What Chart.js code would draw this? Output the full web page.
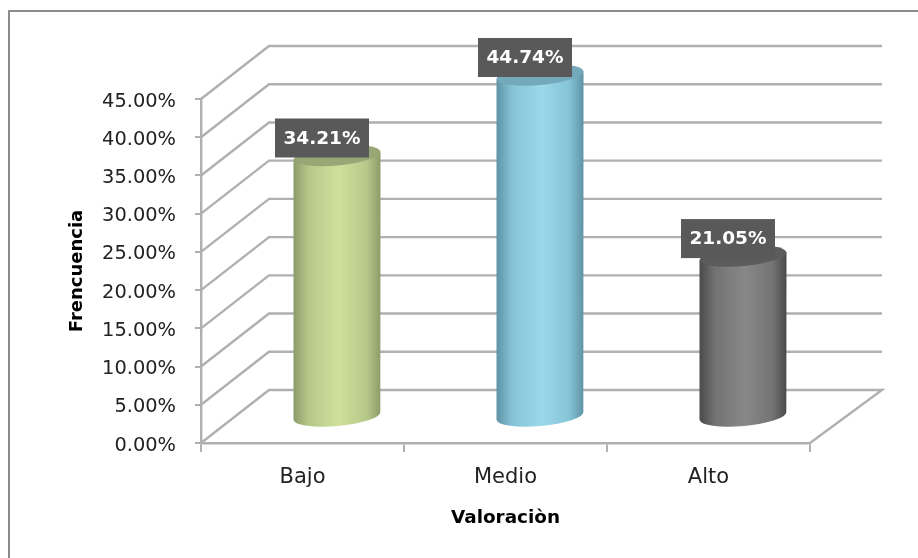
<!DOCTYPE html>
<html><head><meta charset="utf-8">
<style>html,body{margin:0;padding:0;background:#fff}
#w{position:relative;width:918px;height:558px;overflow:hidden}
#ft{position:absolute;left:8px;top:10px;width:910px;height:2px;background:#8c8c8c}
#fl{position:absolute;left:8px;top:10px;width:2px;height:548px;background:#8c8c8c}
canvas{position:absolute;left:0;top:0;filter:blur(0.55px)}</style>
<script src="https://cdn.jsdelivr.net/npm/chart.js@4"></script>
</head><body><div id="w"><div id="ft"></div><div id="fl"></div><canvas id="c" width="918" height="558"></canvas></div>
<script>
const categories = ['Bajo','Medio','Alto'];
const values = [34.21,44.74,21.05];
const centerColors = ['#cfe09c','#9ad8ea','#888888'];
const midColors = ['#b7c98a','#85c3d6','#737373'];
const edgeColors = ['#8c9c6a','#5f93a5','#4a4a4a'];
const capColors = ['#97a775','#74a9bb','#5c5c5c'];
const yTitle = 'Frencuencia';
const xTitle = 'Valoraciòn';
const depthX = 68, depthY = 53;

const scene = {
  id:'scene',
  beforeDatasetsDraw(chart){
    const {ctx,scales:{y},chartArea:a}=chart;
    ctx.save();
    ctx.strokeStyle='#b0b0b0';ctx.lineWidth=2.4;
    y.ticks.forEach(t=>{
      const p=y.getPixelForValue(t.value);
      ctx.beginPath();
      ctx.moveTo(a.left,p);
      ctx.lineTo(a.left+depthX,p-depthY);
      ctx.lineTo(a.right+depthX+4,p-depthY);
      if(t.value===0){ctx.lineTo(a.right,p);}
      ctx.stroke();
    });
    ctx.restore();
  },
  beforeDatasetDraw(chart,args){
    const {ctx}=chart;
    const meta=chart.getDatasetMeta(args.index);
    meta.data.forEach((el,i)=>{
      const rx=el.width/2, ry=10, tilt=-0.09;
      const cx=el.x+34.5, top=el.y-26, bot=el.base-26;
      const g=ctx.createLinearGradient(cx-rx,0,cx+rx,0);
      g.addColorStop(0,edgeColors[i]);
      g.addColorStop(.18,midColors[i]);
      g.addColorStop(.52,centerColors[i]);
      g.addColorStop(.84,midColors[i]);
      g.addColorStop(1,edgeColors[i]);
      const dy=Math.sin(tilt)*rx;
      ctx.save();
      ctx.fillStyle=g;
      ctx.beginPath();
      ctx.moveTo(cx-rx,top-dy);
      ctx.lineTo(cx-rx,bot-dy);
      ctx.ellipse(cx,bot,rx,ry,tilt,Math.PI,0,true);
      ctx.lineTo(cx+rx,top+dy);
      ctx.closePath();
      ctx.fill();
      ctx.fillStyle=capColors[i];
      ctx.beginPath();
      ctx.ellipse(cx,top,rx,ry,tilt,0,Math.PI*2);
      ctx.fill();
      ctx.restore();
    });
    return false;
  },
  afterDatasetsDraw(chart){
    const {ctx}=chart;
    const meta=chart.getDatasetMeta(0);
    ctx.save();
    ctx.font='bold 18.5px "DejaVu Sans"';
    ctx.textAlign='center';ctx.textBaseline='middle';
    meta.data.forEach((el,i)=>{
      const cx=el.x+19.5, cy=el.y-43.5;
      ctx.fillStyle='#595959';
      ctx.fillRect(cx-47,cy-19.5,94,39);
      ctx.fillStyle='#fff';
      ctx.fillText(values[i].toFixed(2)+'%',cx,cy+1);
    });
    ctx.restore();
  }
};

function shiftLabels(s,dy){
  if(s._shifted) return;
  s._shifted=true;
  const orig=s._computeLabelItems;
  s._computeLabelItems=function(a){
    const r=orig.call(this,a);
    r.forEach(it=>{it.options.translation[1]+=dy;});
    return r;
  };
}

new Chart(document.getElementById('c'),{
  type:'bar',
  data:{labels:categories,datasets:[{data:values,backgroundColor:centerColors,categoryPercentage:1,barPercentage:87/203}]},
  options:{
    responsive:false,animation:false,
    layout:{padding:{top:99,right:108,left:0,bottom:0}},
    plugins:{legend:{display:false},tooltip:{enabled:false}},
    scales:{
      y:{min:0,max:45,
        afterFit(s){s.width=201;shiftLabels(s,2.5);},
        ticks:{stepSize:5,padding:19,color:'#222',font:{family:'DejaVu Sans',size:19.4},callback:v=>v.toFixed(2)+'%'},
        grid:{drawOnChartArea:false,color:'#b0b0b0',lineWidth:2,tickLength:6},
        border:{color:'#b0b0b0',width:2.4},
        title:{display:true,text:yTitle,color:'#000',font:{family:'DejaVu Sans',size:18,weight:'bold'},padding:{top:67,bottom:0}}
      },
      x:{
        afterFit(s){s.height=115;},
        ticks:{padding:13,color:'#222',font:{family:'DejaVu Sans',size:21}},
        grid:{drawOnChartArea:false,color:'#b0b0b0',lineWidth:2,tickLength:9,offset:true},
        border:{color:'#b0b0b0',width:2.4},
        title:{display:true,text:xTitle,color:'#000',font:{family:'DejaVu Sans',size:18.4,weight:'bold'},padding:{top:0,bottom:29}}
      }
    }
  },
  plugins:[scene]
});
</script></body></html>
